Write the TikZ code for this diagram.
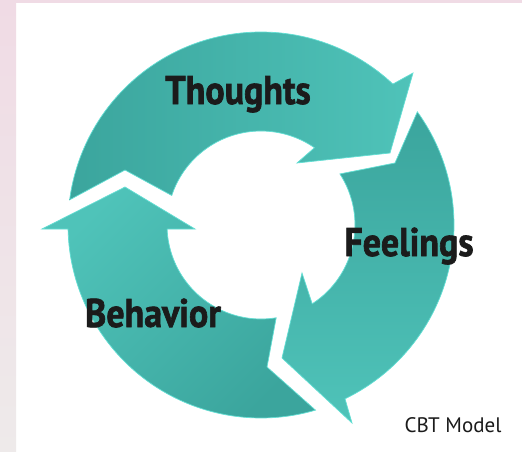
\documentclass[tikz,border=0pt]{standalone}
\usepackage{fontspec}
\setmainfont{PT Sans}
\newfontfamily\heavyfont[FakeBold=1.6, FakeStretch=0.9]{PT Sans Bold}
\definecolor{teal1}{HTML}{3BA59D}
\definecolor{teal2}{HTML}{4FC3B9}
\definecolor{glow}{HTML}{63DFD4}
\definecolor{pink1}{HTML}{F0DBE5}
\definecolor{pink2}{HTML}{EEEAEA}
\definecolor{ink}{HTML}{1B1B1B}
\tikzset{
  cyclearrow/.style={draw=glow, line width=0.7pt, top color=teal1, bottom color=teal2, shading angle=#1},
  bigword/.style={anchor=base, text=ink, font=\heavyfont\fontsize{40}{40}\selectfont}
}

\begin{document}
\begin{tikzpicture}[x=1pt, y=1pt]
\useasboundingbox (0,0) rectangle (522,451);
\fill[white] (0,0) rectangle (522,451);
\shade[top color=pink1, bottom color=pink2] (0,0) rectangle (16,451);
\fill[pink1] (0,448) rectangle (522,451);
% three arrows round the centre of the ring
\begin{scope}[shift={(261,226)}]
\path[cyclearrow=90] (172.5:193) -- (-136,55) -- (161.7:94) arc[start angle=161.7, end angle=55.3, radius=94pt]
  -- (36,62) -- (129,72) -- (152,152) -- (46.9:193) arc[start angle=46.9, end angle=172.5, radius=193pt] -- cycle;
\path[cyclearrow=0] (35.9:193) -- (134,62) -- (32.9:94) arc[start angle=32.9, end angle=-57, radius=94pt]
  -- (41,-48) -- (21,-133) -- (91,-198) -- (-64.2:193) arc[start angle=-64.2, end angle=35.9, radius=193pt] -- cycle;
\path[cyclearrow=225] (286.4:193) -- (6,-142) -- (279.3:94) arc[start angle=279.3, end angle=182.5, radius=94pt]
  -- (-66,-4) -- (-136,38) -- (-219,-4) -- (181.2:193) arc[start angle=181.2, end angle=286.4, radius=193pt] -- cycle;
\end{scope}
% labels
\node[bigword] (thoughts) at (238,347) {Thoughts};
\node[bigword] (feelings) at (409,195) {Feelings};
\node[bigword] (behavior) at (153,124) {Behavior};
\node[anchor=base, text=ink, font=\fontsize{21}{21}\selectfont] (cbt) at (453,19) {CBT Model};
\end{tikzpicture}
\end{document}
